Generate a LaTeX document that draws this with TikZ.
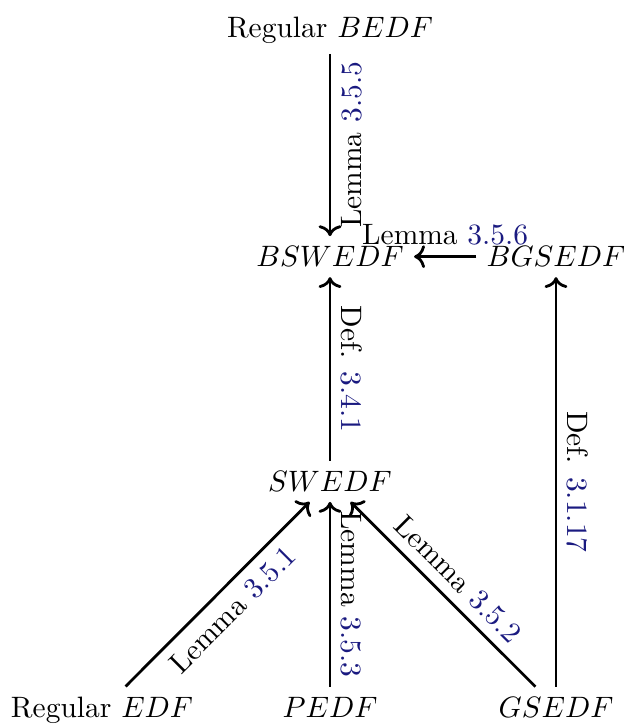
\documentclass[tikz,border=0pt]{standalone}
\usetikzlibrary{arrows.meta}
\definecolor{reflink}{RGB}{26,26,128}
\newcommand{\rf}[1]{\textcolor{reflink}{#1}}
\begin{document}
\begin{tikzpicture}[x=1pt,y=1pt,
  obj/.style={anchor=base, inner sep=3.333pt},
  arr/.style={line width=0.95pt, -{Computer Modern Rightarrow}},
  lab/.style={midway, inner sep=3.333pt, font=\normalsize}]
\useasboundingbox (0,0) rectangle (211.86,-246.44);
\node[obj] (rbedf) at (111.86,-12.64) {Regular $BEDF$};
\node[obj] (bswedf) at (111.86,-90.41) {$BSWEDF$};
\node[obj] (bgsedf) at (188.47,-90.41) {$BGSEDF$};
\node[obj] (swedf) at (111.86,-166.61) {$SWEDF$};
\node[obj] (redf) at (34.58,-243.15) {Regular $EDF$};
\node[obj] (pedf) at (111.86,-243.15) {$PEDF$};
\node[obj] (gsedf) at (188.47,-243.15) {$GSEDF$};
\draw[arr] (rbedf) -- (bswedf) node[lab, rotate=90, anchor=north] {Lemma \rf{3.5.5}};
\draw[arr] (bgsedf) -- (bswedf) node[lab, anchor=south] {Lemma \rf{3.5.6}};
\draw[arr] (swedf) -- (bswedf) node[lab, rotate=-90, anchor=south] {Def. \rf{3.4.1}};
\draw[arr] (gsedf) -- (bgsedf) node[lab, rotate=-90, anchor=south] {Def. \rf{3.1.17}};
\draw[arr] (redf) -- (swedf) node[lab, sloped, anchor=north] {Lemma \rf{3.5.1}};
\draw[arr] (pedf) -- (swedf) node[lab, rotate=-90, anchor=south] {Lemma \rf{3.5.3}};
\draw[arr] (gsedf) -- (swedf) node[lab, sloped, anchor=south] {Lemma \rf{3.5.2}};
\end{tikzpicture}
\end{document}
